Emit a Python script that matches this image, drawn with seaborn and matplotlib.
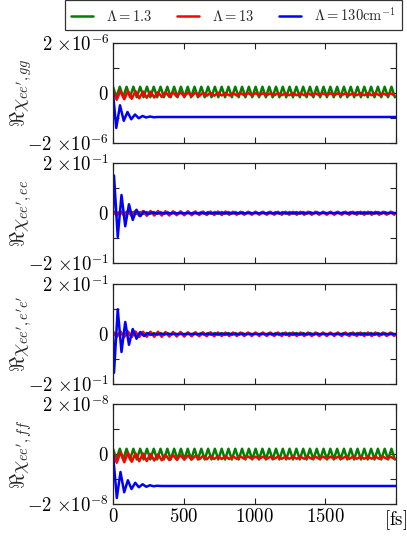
import numpy as np
import pandas as pd
import matplotlib
matplotlib.use("Agg")
import matplotlib.pyplot as plt
import seaborn as sns

# ---------------- data ----------------
legend_labels = [r"$\Lambda=1.3$", r"$\Lambda=13$", r"$\Lambda=130\mathrm{cm}^{-1}$"]
panel_ylabels = [r"$\Re\chi_{ee^{\prime},gg}$", r"$\Re\chi_{ee^{\prime},ee}$",
                 r"$\Re\chi_{ee^{\prime},e^{\prime}e^{\prime}}$", r"$\Re\chi_{ee^{\prime},ff}$"]
panel_exponents = [-6, -1, -1, -8]
x_ticks = [0, 500, 1000, 1500, 2000]
x_ticklabels = ["0", "500", "1000", "1500", "[fs]"]

# sampling step between successive extrema (fs)
green_step = 24.0
red_step = 26.5

# Lambda = 1.3 (green): alternating peak / trough values, in units of the panel exponent
green_gg = [
    0.25, -0.17, 0.25, -0.17, 0.25, -0.17, 0.25, -0.17, 0.25, -0.17, 0.25, -0.17, 0.25, -0.17,
    0.25, -0.17, 0.25, -0.17, 0.25, -0.17, 0.25, -0.17, 0.25, -0.17, 0.25, -0.17, 0.25, -0.17,
    0.25, -0.17, 0.25, -0.17, 0.25, -0.17, 0.25, -0.17, 0.25, -0.17, 0.25, -0.17, 0.25, -0.17,
    0.25, -0.17, 0.25, -0.17, 0.25, -0.17, 0.25, -0.17, 0.25, -0.17, 0.25, -0.17, 0.25, -0.17,
    0.25, -0.17, 0.25, -0.17, 0.25, -0.17, 0.25, -0.17, 0.25, -0.17, 0.25, -0.17, 0.25, -0.17,
    0.25, -0.17, 0.25, -0.17, 0.25, -0.17, 0.25, -0.17, 0.25, -0.17, 0.25, -0.17, 0.25, -0.17,
]
green_ee = [
    0.04, -0.03, 0.04, -0.03, 0.04, -0.03, 0.04, -0.03, 0.04, -0.03, 0.04, -0.03, 0.04, -0.03,
    0.04, -0.03, 0.04, -0.03, 0.04, -0.03, 0.04, -0.03, 0.04, -0.03, 0.04, -0.03, 0.04, -0.03,
    0.04, -0.03, 0.04, -0.03, 0.04, -0.03, 0.04, -0.03, 0.04, -0.03, 0.04, -0.03, 0.04, -0.03,
    0.04, -0.03, 0.04, -0.03, 0.04, -0.03, 0.04, -0.03, 0.04, -0.03, 0.04, -0.03, 0.04, -0.03,
    0.04, -0.03, 0.04, -0.03, 0.04, -0.03, 0.04, -0.03, 0.04, -0.03, 0.04, -0.03, 0.04, -0.03,
    0.04, -0.03, 0.04, -0.03, 0.04, -0.03, 0.04, -0.03, 0.04, -0.03, 0.04, -0.03, 0.04, -0.03,
]
green_e2e2 = [
    0.04, -0.04, 0.04, -0.04, 0.04, -0.04, 0.04, -0.04, 0.04, -0.04, 0.04, -0.04, 0.04, -0.04,
    0.04, -0.04, 0.04, -0.04, 0.04, -0.04, 0.04, -0.04, 0.04, -0.04, 0.04, -0.04, 0.04, -0.04,
    0.04, -0.04, 0.04, -0.04, 0.04, -0.04, 0.04, -0.04, 0.04, -0.04, 0.04, -0.04, 0.04, -0.04,
    0.04, -0.04, 0.04, -0.04, 0.04, -0.04, 0.04, -0.04, 0.04, -0.04, 0.04, -0.04, 0.04, -0.04,
    0.04, -0.04, 0.04, -0.04, 0.04, -0.04, 0.04, -0.04, 0.04, -0.04, 0.04, -0.04, 0.04, -0.04,
    0.04, -0.04, 0.04, -0.04, 0.04, -0.04, 0.04, -0.04, 0.04, -0.04, 0.04, -0.04, 0.04, -0.04,
]
green_ff = [
    0.21, -0.22, 0.21, -0.22, 0.21, -0.22, 0.21, -0.22, 0.21, -0.22, 0.21, -0.22, 0.21, -0.22,
    0.21, -0.22, 0.21, -0.22, 0.21, -0.22, 0.21, -0.22, 0.21, -0.22, 0.21, -0.22, 0.21, -0.22,
    0.21, -0.22, 0.21, -0.22, 0.21, -0.22, 0.21, -0.22, 0.21, -0.22, 0.21, -0.22, 0.21, -0.22,
    0.21, -0.22, 0.21, -0.22, 0.21, -0.22, 0.21, -0.22, 0.21, -0.22, 0.21, -0.22, 0.21, -0.22,
    0.21, -0.22, 0.21, -0.22, 0.21, -0.22, 0.21, -0.22, 0.21, -0.22, 0.21, -0.22, 0.21, -0.22,
    0.21, -0.22, 0.21, -0.22, 0.21, -0.22, 0.21, -0.22, 0.21, -0.22, 0.21, -0.22, 0.21, -0.22,
]

# Lambda = 13 (red): alternating peak / trough values
red_gg = [
    0.10, -0.27, 0.09, -0.25, 0.08, -0.23, 0.07, -0.21, 0.06, -0.19, 0.05, -0.18, 0.04, -0.16,
    0.04, -0.15, 0.03, -0.14, 0.03, -0.13, 0.02, -0.12, 0.02, -0.12, 0.01, -0.11, 0.01, -0.11,
    0.01, -0.10, 0.00, -0.10, 0.00, -0.10, 0.00, -0.09, 0.00, -0.09, -0.01, -0.09, -0.01, -0.09,
    -0.01, -0.09, -0.01, -0.09, -0.01, -0.09, -0.01, -0.09, -0.01, -0.09, -0.01, -0.09, -0.01, -0.09,
    -0.01, -0.09, -0.01, -0.09, -0.01, -0.09, -0.01, -0.09, -0.01, -0.09, -0.01, -0.09, -0.01, -0.09,
    -0.01, -0.09, -0.01, -0.09, -0.01, -0.09,
]
red_ee = [
    0.08, -0.11, 0.08, -0.12, 0.09, -0.12, 0.09, -0.11, 0.08, -0.11, 0.08, -0.10, 0.08, -0.10,
    0.07, -0.10, 0.07, -0.09, 0.07, -0.09, 0.07, -0.09, 0.06, -0.08, 0.06, -0.08, 0.06, -0.08,
    0.06, -0.08, 0.06, -0.07, 0.05, -0.07, 0.05, -0.07, 0.05, -0.07, 0.05, -0.07, 0.05, -0.07,
    0.05, -0.07, 0.05, -0.07, 0.05, -0.07, 0.05, -0.07, 0.05, -0.07, 0.05, -0.07, 0.05, -0.07,
    0.05, -0.07, 0.05, -0.07, 0.05, -0.07, 0.05, -0.07, 0.05, -0.07, 0.05, -0.07, 0.05, -0.07,
    0.05, -0.07, 0.05, -0.07, 0.05, -0.07,
]
red_e2e2 = [
    0.10, -0.12, 0.10, -0.12, 0.10, -0.12, 0.10, -0.12, 0.09, -0.11, 0.09, -0.11, 0.09, -0.11,
    0.08, -0.10, 0.08, -0.10, 0.08, -0.10, 0.07, -0.09, 0.07, -0.09, 0.07, -0.09, 0.07, -0.09,
    0.06, -0.08, 0.06, -0.08, 0.06, -0.08, 0.06, -0.08, 0.06, -0.08, 0.06, -0.08, 0.06, -0.08,
    0.06, -0.08, 0.06, -0.08, 0.06, -0.08, 0.06, -0.08, 0.06, -0.08, 0.06, -0.08, 0.06, -0.08,
    0.06, -0.08, 0.06, -0.08, 0.06, -0.08, 0.06, -0.08, 0.06, -0.08, 0.06, -0.08, 0.06, -0.08,
    0.06, -0.08, 0.06, -0.08, 0.06, -0.08,
]
red_ff = [
    0.09, -0.35, 0.07, -0.33, 0.05, -0.31, 0.03, -0.29, 0.02, -0.28, 0.00, -0.26, -0.01, -0.25,
    -0.03, -0.24, -0.04, -0.23, -0.05, -0.22, -0.06, -0.22, -0.07, -0.21, -0.08, -0.21, -0.08, -0.20,
    -0.09, -0.20, -0.09, -0.20, -0.10, -0.19, -0.10, -0.19, -0.10, -0.19, -0.11, -0.19, -0.11, -0.19,
    -0.11, -0.19, -0.11, -0.19, -0.11, -0.19, -0.11, -0.19, -0.11, -0.19, -0.11, -0.19, -0.11, -0.19,
    -0.11, -0.19, -0.11, -0.19, -0.11, -0.19, -0.11, -0.19, -0.11, -0.19, -0.11, -0.19, -0.11, -0.19,
    -0.11, -0.19, -0.11, -0.19, -0.11, -0.19,
]

# Lambda = 130 cm^-1 (blue): damped oscillation extrema (time in fs, value)
blue_gg_t = [0, 23, 49.5, 76, 102.5, 129, 155.5, 182, 208.5, 235, 261.5, 288, 314.5, 2000]
blue_gg = [0.0, -1.40, -0.49, -1.11, -0.76, -1.05, -0.86, -1.01, -0.92, -0.98, -0.94, -0.97, -0.96, -0.96]
blue_ee_t = [0, 7, 33.5, 60, 86.5, 113, 139.5, 166, 192.5, 219, 245.5, 272, 298.5, 2000]
blue_ee = [0.0, 1.50, -0.96, 0.72, -0.53, 0.35, -0.28, 0.13, -0.13, 0.06, -0.05, 0.02, -0.01, 0.0]
blue_e2e2_t = [0, 7, 33.5, 60, 86.5, 113, 139.5, 166, 192.5, 219, 245.5, 272, 298.5, 2000]
blue_e2e2 = [0.0, -1.55, 0.99, -0.72, 0.48, -0.43, 0.20, -0.19, 0.08, -0.08, 0.03, -0.02, 0.0, 0.0]
blue_ff_t = [0, 27, 53, 79, 105, 131, 157, 183, 209, 235, 261, 287, 313, 339, 2000]
blue_ff = [0.0, -1.76, -0.72, -1.53, -1.05, -1.40, -1.15, -1.33, -1.21, -1.31, -1.25, -1.29, -1.27, -1.28, -1.28]

panels = [
    (green_gg, red_gg, blue_gg_t, blue_gg),
    (green_ee, red_ee, blue_ee_t, blue_ee),
    (green_e2e2, red_e2e2, blue_e2e2_t, blue_e2e2),
    (green_ff, red_ff, blue_ff_t, blue_ff),
]

# ---------------- style ----------------
sns.set_style("ticks")
plt.rcParams["font.family"] = ["DejaVu Serif"]
plt.rcParams["mathtext.fontset"] = "cm"
plt.rcParams["axes.linewidth"] = 0.9
plt.rcParams["axes.edgecolor"] = "#222222"

colors = ["#008000", "#ff0000", "#0000ff"]
LW = 1.8

fig = plt.figure(figsize=(4.07, 5.43), dpi=100)
W, H = 407.0, 543.0
left, right = 113 / W, 396 / W
tops = [43, 163, 284, 404]
ph = 100

axes = []
for i, (g, r, bt, b) in enumerate(panels):
    ax = fig.add_axes([left, 1 - (tops[i] + ph) / H, right - left, ph / H])
    axes.append(ax)
    scale = 10.0 ** panel_exponents[i]
    df_g = pd.DataFrame({"t": np.arange(len(g)) * green_step, "v": np.array(g) * scale})
    df_r = pd.DataFrame({"t": np.arange(len(r)) * red_step, "v": np.array(r) * scale})
    df_b = pd.DataFrame({"t": bt, "v": np.array(b) * scale})
    sns.lineplot(data=df_g, x="t", y="v", color=colors[0], lw=LW, ax=ax,
                 estimator=None, sort=False, label=legend_labels[0] if i == 0 else None)
    sns.lineplot(data=df_r, x="t", y="v", color=colors[1], lw=LW, ax=ax,
                 estimator=None, sort=False, label=legend_labels[1] if i == 0 else None)
    sns.lineplot(data=df_b, x="t", y="v", color=colors[2], lw=LW, ax=ax,
                 estimator=None, sort=False, label=legend_labels[2] if i == 0 else None)
    e = panel_exponents[i]
    ax.set_xlim(0, 2000)
    ax.set_ylim(-2 * scale, 2 * scale)
    ax.set_yticks([-2 * scale, -1 * scale, 0, 1 * scale, 2 * scale])
    ax.set_yticklabels([r"$-2\ {\times}10^{%d}$" % e, "", r"$0$", "", r"$2\ {\times}10^{%d}$" % e],
                       fontsize=13.5)
    ax.set_xticks(x_ticks)
    if i == 3:
        ax.set_xticklabels([r"$%s$" % s if s != "[fs]" else r"$[\mathrm{fs}]$" for s in x_ticklabels],
                           fontsize=13.5)
    else:
        ax.set_xticklabels([])
    ax.tick_params(direction="in", top=True, right=True, length=4, width=0.8, pad=3,
                   colors="#222222", labelcolor="black")
    ax.set_xlabel("")
    ax.set_ylabel(panel_ylabels[i], fontsize=15)
    ax.yaxis.set_label_coords(-0.28, 0.5)
    for s in ax.spines.values():
        s.set_visible(True)
    if ax.get_legend() is not None:
        ax.get_legend().remove()

handles, labels = axes[0].get_legend_handles_labels()
leg = fig.legend(handles, labels, loc="upper center", ncol=3,
                 bbox_to_anchor=(233.5 / W, 1.0), borderaxespad=0,
                 fancybox=False, frameon=True, edgecolor="black", fontsize=10.5,
                 handlelength=1.5, handletextpad=0.9, columnspacing=1.7, borderpad=0.4)
leg.get_frame().set_linewidth(0.9)

fig.savefig("out.png", dpi=100)
